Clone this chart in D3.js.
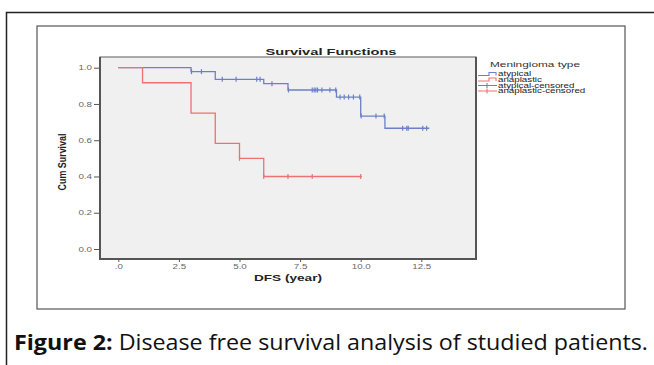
<!DOCTYPE html>
<html>
<head>
<meta charset="utf-8">
<script src="https://cdn.jsdelivr.net/npm/d3@7"></script>
<style>
  body { margin: 0; background: #fff; }
  svg { display: block; }
</style>
</head>
<body>
<div id="chart"></div>
<script>
/* data */
const atypicalEventTimes = [0, 3, 4, 6, 7, 9, 10, 11];
const atypicalSurvival = [1.0, 0.978, 0.936, 0.912, 0.877, 0.838, 0.733, 0.666];
const atypicalLastTime = 12.83;
const atypicalCensored = [3.02, 3.43, 4.29, 4.86, 5.71, 5.85, 6.34, 7.02, 8.0, 8.08, 8.15, 8.22, 8.4, 8.73,
    8.97, 9.15, 9.32, 9.5, 9.7, 9.96, 10.02, 10.63, 10.97, 11.73, 11.9, 11.96, 12.56, 12.72];

const anaplasticEventTimes = [0, 1, 3, 4, 5, 6];
const anaplasticSurvival = [1.0, 0.917, 0.75, 0.583, 0.5, 0.4];
const anaplasticLastTime = 10.05;
const anaplasticCensored = [5.0, 6.0, 7.0, 8.0, 10.0];

const xTicks = [0, 2.5, 5, 7.5, 10, 12.5];
const xTickLabels = [".0", "2.5", "5.0", "7.5", "10.0", "12.5"];
const yTicks = [0, 0.2, 0.4, 0.6, 0.8, 1.0];
const legendLabels = ["atypical", "anaplastic", "atypical-censored", "anaplastic-censored"];

const blue = "#6b80c8";
const red = "#ee7070";

var svg = d3.select("#chart")
    .append("svg")
    .attr("width", 654)
    .attr("height", 365);

// stretch text horizontally like the scanned figure
function stretch(sel, k) {
    sel.each(function () {
        var w = this.getComputedTextLength();
        d3.select(this).attr("textLength", w * k).attr("lengthAdjust", "spacingAndGlyphs");
    });
}

// outer frame (only left and top visible)
svg.append("path")
    .attr("d", "M6.5,365V12.5H654")
    .attr("fill", "none")
    .attr("stroke", "#222")
    .attr("stroke-width", 1.5);

// inner box
svg.append("rect")
    .attr("x", 37).attr("y", 26)
    .attr("width", 588).attr("height", 283)
    .attr("fill", "#fff")
    .attr("stroke", "#555")
    .attr("stroke-width", 1.2);

// plot area
var plot = { left: 100, top: 57, right: 476, bottom: 259 };

svg.append("rect")
    .attr("x", plot.left).attr("y", plot.top)
    .attr("width", plot.right - plot.left)
    .attr("height", plot.bottom - plot.top)
    .attr("fill", "#f0f0f0")
    .attr("stroke", "#777")
    .attr("stroke-width", 1.2);

var x = d3.scaleLinear()
    .domain([0, 12.5])
    .range([118.3, 421.3]);

var y = d3.scaleLinear()
    .domain([0, 1])
    .range([249, 67.7]);

// Y axis
var gy = svg.append("g")
    .attr("transform", "translate(" + plot.left + ",0)")
    .call(d3.axisLeft(y).tickValues(yTicks).tickFormat(d3.format(".1f")).tickSize(6).tickPadding(2));
gy.select(".domain").remove();
gy.selectAll(".tick line").attr("stroke", "#555");
gy.selectAll(".tick text")
    .attr("fill", "#666")
    .style("font-family", "Liberation Sans, Arial, sans-serif")
    .style("font-size", "6.5px")
    .call(stretch, 1.5);

// X axis
var gx = svg.append("g")
    .attr("transform", "translate(0," + plot.bottom + ")")
    .call(d3.axisBottom(x).tickValues(xTicks).tickFormat(function (d, i) { return xTickLabels[i]; }).tickSize(3).tickPadding(2));
gx.select(".domain").remove();
gx.selectAll(".tick line").attr("stroke", "#555");
gx.selectAll(".tick text")
    .attr("fill", "#666")
    .style("font-family", "Liberation Sans, Arial, sans-serif")
    .style("font-size", "6.5px")
    .call(stretch, 1.5);

// heavier axis lines
svg.append("path")
    .attr("d", "M" + plot.left + "," + plot.top + "V" + plot.bottom + "H" + plot.right + "V" + plot.top)
    .attr("fill", "none")
    .attr("stroke", "#555")
    .attr("stroke-width", 2);

// step curves
function steps(times, surv, last) {
    var pts = times.map(function (t, i) { return [t, surv[i]]; });
    pts.push([last, surv[surv.length - 1]]);
    return pts;
}
function levelAt(times, surv, t) {
    var v = surv[0];
    times.forEach(function (tt, i) { if (tt <= t) v = surv[i]; });
    return v;
}

var stepLine = d3.line()
    .x(function (d) { return x(d[0]); })
    .y(function (d) { return y(d[1]); })
    .curve(d3.curveStepAfter);

function drawSeries(times, surv, last, censored, color) {
    svg.append("path")
        .datum(steps(times, surv, last))
        .attr("fill", "none")
        .attr("stroke", color)
        .attr("stroke-width", 1.3)
        .attr("d", stepLine);

    svg.append("g").selectAll("line")
        .data(censored)
        .join("line")
        .attr("x1", function (d) { return x(d); })
        .attr("x2", function (d) { return x(d); })
        .attr("y1", function (d) { return y(levelAt(times, surv, d)) - 2.5; })
        .attr("y2", function (d) { return y(levelAt(times, surv, d)) + 2.5; })
        .attr("stroke", color)
        .attr("stroke-width", 1.2);
}

drawSeries(atypicalEventTimes, atypicalSurvival, atypicalLastTime, atypicalCensored, blue);
drawSeries(anaplasticEventTimes, anaplasticSurvival, anaplasticLastTime, anaplasticCensored, red);

// titles
svg.append("text")
    .attr("x", 331).attr("y", 55)
    .attr("text-anchor", "middle")
    .style("font-family", "Liberation Sans, Arial, sans-serif")
    .style("font-weight", "bold")
    .style("font-size", "9.5px")
    .attr("fill", "#222")
    .text("Survival Functions")
    .attr("textLength", 131).attr("lengthAdjust", "spacingAndGlyphs");

svg.append("text")
    .attr("x", 288).attr("y", 280.5)
    .attr("text-anchor", "middle")
    .style("font-family", "Liberation Sans, Arial, sans-serif")
    .style("font-weight", "bold")
    .style("font-size", "9px")
    .attr("fill", "#222")
    .text("DFS (year)")
    .attr("textLength", 68).attr("lengthAdjust", "spacingAndGlyphs");

svg.append("text")
    .attr("transform", "translate(66,162) rotate(-90)")
    .attr("text-anchor", "middle")
    .style("font-family", "Liberation Sans Narrow, Liberation Sans, Arial, sans-serif")
    .style("font-weight", "bold")
    .style("font-size", "11px")
    .attr("fill", "#222")
    .text("Cum Survival")
    .attr("textLength", 57).attr("lengthAdjust", "spacingAndGlyphs");

// legend
svg.append("text")
    .attr("x", 490).attr("y", 67)
    .style("font-family", "Liberation Sans, Arial, sans-serif")
    .style("font-size", "7.5px")
    .attr("fill", "#333")
    .text("Meningioma type")
    .attr("textLength", 90).attr("lengthAdjust", "spacingAndGlyphs");

var legendColors = [blue, red, blue, red];
var legendY = [74, 79.5, 85.5, 91];

var leg = svg.append("g").selectAll("g")
    .data(legendLabels)
    .join("g")
    .attr("transform", function (d, i) { return "translate(0," + legendY[i] + ")"; });

leg.append("path")
    .attr("d", function (d, i) {
        return i < 2 ? "M478,1.5H489V-1.5H496V1.5" : "M478,0H497M487,-2.5V2.5";
    })
    .attr("fill", "none")
    .attr("stroke", function (d, i) { return legendColors[i]; })
    .attr("stroke-width", 1.1);

leg.append("text")
    .attr("x", 498)
    .attr("dy", "0.35em")
    .style("font-family", "Liberation Sans, Arial, sans-serif")
    .style("font-size", "6.5px")
    .attr("fill", "#222")
    .text(function (d) { return d; })
    .call(stretch, 1.5);

// caption
var cap = svg.append("text")
    .attr("x", 14).attr("y", 350)
    .style("font-family", "Open Sans, Noto Sans, sans-serif")
    .style("font-size", "21px")
    .attr("fill", "#111");
cap.append("tspan").style("font-weight", "bold").text("Figure 2:");
cap.append("tspan").text(" Disease free survival analysis of studied patients.");
cap.attr("textLength", 634).attr("lengthAdjust", "spacingAndGlyphs");
</script>
</body>
</html>
